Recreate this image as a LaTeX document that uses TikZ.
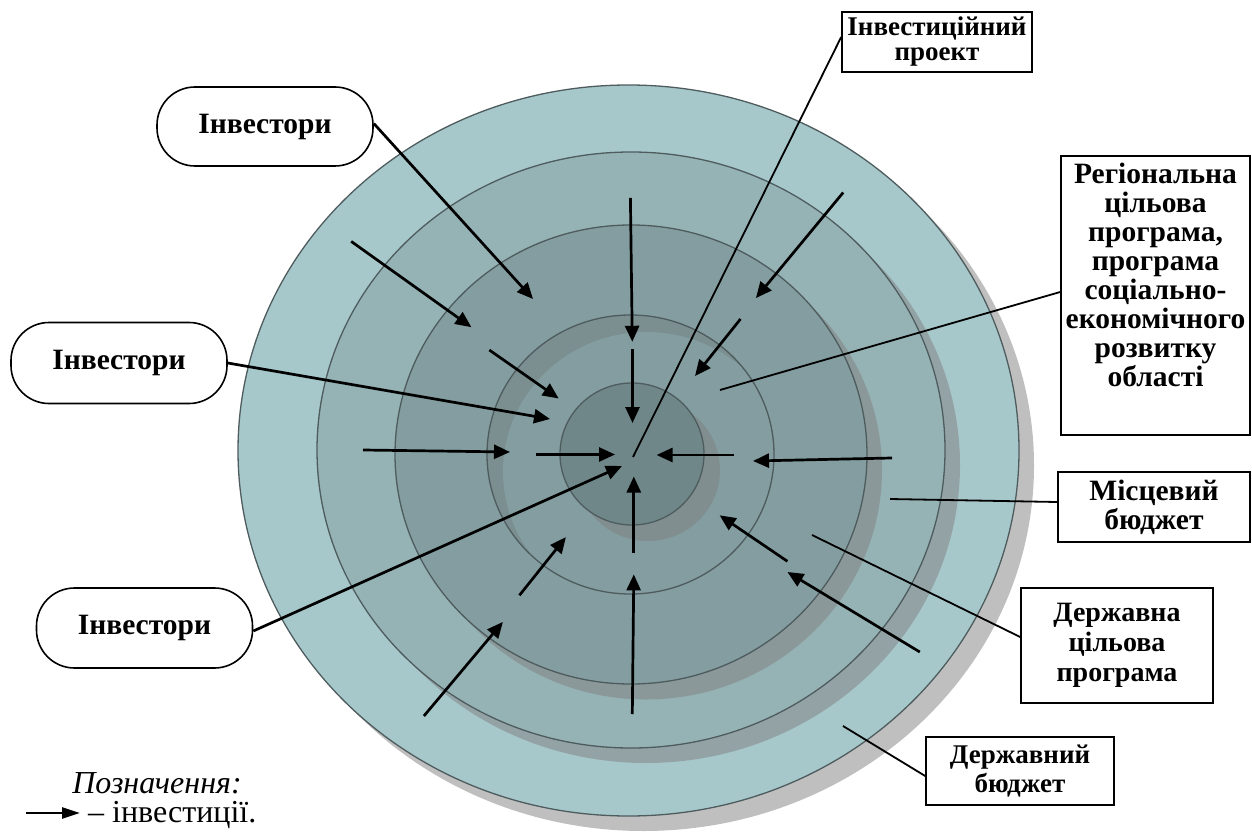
\documentclass[tikz,border=0pt]{standalone}
\usepackage{fontspec}
\setmainfont{Liberation Serif}
\usetikzlibrary{arrows.meta,calc}
\definecolor{cA}{HTML}{A7C8CB}
\definecolor{cB}{HTML}{95B2B5}
\definecolor{cC}{HTML}{839DA0}
\definecolor{cD}{HTML}{7B8E90}
\definecolor{cE}{HTML}{6F8789}
\definecolor{cLine}{HTML}{4E5C5E}
\begin{document}
\begin{tikzpicture}[x=1pt,y=-1pt,
  ring/.style={draw=cLine,line width=1.3pt},
  shad/.style={fill=black!50,fill opacity=0.5},
  invarrow/.style={-{Triangle[length=16pt,width=14pt]},line width=2.7pt},
  lead/.style={line width=1.8pt},
  lbl/.style={draw,line width=1.6pt,fill=white,align=center,inner sep=0pt,
    font=\fontsize{27}{29}\selectfont\bfseries},
  bigtxt/.style={font=\fontsize{29.5}{29}\selectfont\bfseries},
  investor/.style={draw,line width=1.6pt,fill=white,rounded corners=38pt,
    minimum width=216pt,minimum height=79pt,inner sep=0pt,
    font=\fontsize{29.5}{29}\selectfont\bfseries}]
\useasboundingbox (0,0) rectangle (1252,834);
% ellipses with shadows
\fill[shad] (643.5,465.5) ellipse [x radius=390.5pt,y radius=365.5pt];
\filldraw[ring,fill=cA] (628.5,450.5) ellipse [x radius=390.5pt,y radius=365.5pt];
\fill[shad] (646,465) ellipse [x radius=314pt,y radius=298pt];
\filldraw[ring,fill=cB] (631,450) ellipse [x radius=314pt,y radius=298pt];
\fill[shad] (646,470) ellipse [x radius=236pt,y radius=229.5pt];
\filldraw[ring,fill=cC] (631,454.5) ellipse [x radius=236pt,y radius=229.5pt];
\fill[cD] (630.5,454.5) ellipse [x radius=143.5pt,y radius=139.5pt];
\begin{scope}
  \clip (630.5,454.5) ellipse [x radius=143.5pt,y radius=139.5pt];
  \fill[cC] (646.5,471.5) ellipse [x radius=143.5pt,y radius=139.5pt];
\end{scope}
\draw[ring] (630.5,454.5) ellipse [x radius=143.5pt,y radius=139.5pt];
\fill[shad] (648,470) ellipse [x radius=72pt,y radius=71pt];
\filldraw[ring,fill=cE] (632,454) ellipse [x radius=72pt,y radius=71pt];
% label boxes
\node[lbl,minimum width=190pt,minimum height=60pt,font=\fontsize{27}{25}\selectfont\bfseries] (proj) at (937,42) {Інвестиційний\\проект};
\node[lbl,bigtxt,minimum width=189pt,minimum height=279pt] (reg) at (1155.5,295.5)
  {Регіональна\\цільова\\програма,\\програма\\соціально-\\економічного\\розвитку\\області\\[12pt]\mbox{}};
\node[lbl,bigtxt,minimum width=192pt,minimum height=70pt] (mis) at (1154,507) {Місцевий\\бюджет};
\node[lbl,minimum width=192pt,minimum height=115pt,font=\fontsize{28}{30}\selectfont\bfseries] (dcp) at (1117,645.5) {Державна\\цільова\\програма};
\node[lbl,minimum width=188pt,minimum height=68pt] (db) at (1020,771) {Державний\\бюджет};
\node[investor] (inv1) at (265,126.5) {Інвестори};
\node[investor,minimum height=81pt] (inv2) at (119,363) {Інвестори};
\node[investor,minimum height=80pt] (inv3) at (144.5,628) {Інвестори};
% leader coordinates
\coordinate (cProj) at (633,457);
\coordinate (cReg) at (720,390);
\coordinate (cMis) at (890,499);
\coordinate (cDcp) at (812,535);
\coordinate (cDb) at (843,726);
\draw[lead] (cProj) -- (proj.west |- 0,37);
\draw[lead] (cReg) -- (reg.west |- 0,292);
\draw[lead] (cMis) -- (mis.west |- 0,502);
\draw[lead] (cDcp) -- (dcp.west |- 0,637);
\draw[lead] (cDb) -- (db.west |- 0,776);
% investor arrows
\coordinate (t1) at (533,299);
\coordinate (t2) at (550,419);
\coordinate (t3) at (622,466);
\draw[invarrow] ([yshift=3pt]inv1.east) -- (t1);
\draw[invarrow] (inv2.east) -- (t2);
\draw[invarrow] ([yshift=-3pt]inv3.east) -- (t3);
% inward arrows
\foreach \n/\sx/\sy/\ex/\ey in {
  a1/630.4/197.8/632.3/341.8,
  a2/632.5/349/632.5/423,
  a3/843.2/192.5/755.9/298.1,
  a4/740.5/319/695/376,
  a5/892/458/753/461,
  a6/734/455/656.6/455,
  a7/363/450/510/452,
  a8/536/454.5/615/454.5,
  a9/351.2/241.4/471.4/327.2,
  a10/489.3/350/558.7/398.5,
  a11/633.8/552.6/633.8/476.5,
  a12/632.3/714/633.8/574.4,
  a13/519.4/595.3/565.9/537.1,
  a14/423.9/716/502.9/621.9,
  a15/787.4/561.3/719.6/515.3,
  a16/919.8/652/787.4/572}{
  \coordinate (\n s) at (\sx,\sy);
  \coordinate (\n e) at (\ex,\ey);
  \draw[invarrow] (\n s) -- (\n e);
}
% legend
\node[anchor=base,inner sep=0pt,font=\fontsize{32}{34}\selectfont\itshape] (legt) at (157,793) {Позначення:};
\coordinate (lg1) at (26,813);
\coordinate (lg2) at (80,813);
\draw[line width=2.4pt,-{Triangle[length=18pt,width=11pt]}] (lg1) -- (lg2);
\node[anchor=base west,inner sep=0pt,font=\fontsize{32}{34}\selectfont] (legd) at (88,822) {– інвестиції.};
\end{tikzpicture}
\end{document}
